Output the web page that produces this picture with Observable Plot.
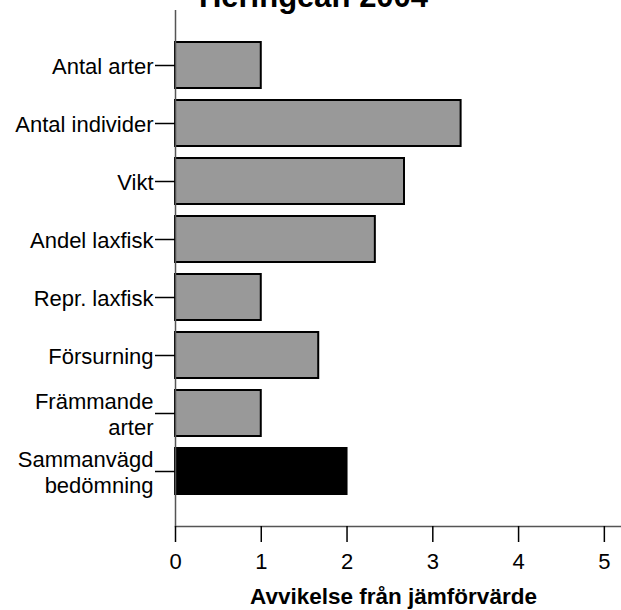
<!DOCTYPE html>
<html><head><meta charset="utf-8">
<script src="https://cdn.jsdelivr.net/npm/d3@7"></script>
<script src="https://cdn.jsdelivr.net/npm/@observablehq/plot@0.6"></script>
<style>body{margin:0;background:#fff;font-family:"Liberation Sans",Arial,sans-serif}</style>
</head><body><div id="chart"></div>
<script>
const title = "Heringeån 2004";
const xLabel = "Avvikelse från jämförvärde";
const categories = ["Antal arter", "Antal individer", "Vikt", "Andel laxfisk", "Repr. laxfisk", "Försurning", "Främmande\narter", "Sammanvägd\nbedömning"];
const values = [1, 3.33, 2.67, 2.33, 1, 1.67, 1, 2];
const kinds = ["indikator", "indikator", "indikator", "indikator", "indikator", "indikator", "indikator", "sammanvägd"];
const xTicks = [0, 1, 2, 3, 4, 5];

const data = categories.map((c, i) => ({category: c, value: values[i], kind: kinds[i]}));

const chart = Plot.plot({
  width: 621,
  height: 610,
  marginTop: 10,
  marginLeft: 175,
  marginRight: 0,
  marginBottom: 84,
  x: {domain: [0, 5.2]},
  y: {domain: categories, range: [30, 506], padding: 0.2},
  style: {fontFamily: '"Liberation Sans", Arial, sans-serif', fontSize: "22px", color: "black", background: "white", overflow: "visible"},
  marks: [
    Plot.barX(data, {x: "value", y: "category", fill: d => d.kind === "sammanvägd" ? "#000000" : "#999999", stroke: "black", strokeWidth: 2}),
    Plot.ruleX([0], {stroke: "#555", strokeWidth: 1.5}),
    Plot.frame({anchor: "bottom", stroke: "#555", strokeWidth: 1.5}),
    Plot.axisX(xTicks, {tickSize: 16, tickPadding: 11, fontSize: 22, label: null, strokeWidth: 1.5}),
    Plot.axisY({tickSize: 20, tickPadding: 2, fontSize: 22, lineHeight: 1.2, label: null, strokeWidth: 1.5}),
    Plot.text([xLabel], {frameAnchor: "bottom", dx: -5, dy: 70, lineAnchor: "middle", fontWeight: "bold", fontSize: 22.5}),
    Plot.text([title], {frameAnchor: "top", dx: -85, dy: -13, lineAnchor: "middle", fontWeight: "bold", fontSize: 31})
  ]
});
document.getElementById("chart").append(chart);
</script>
</body></html>
